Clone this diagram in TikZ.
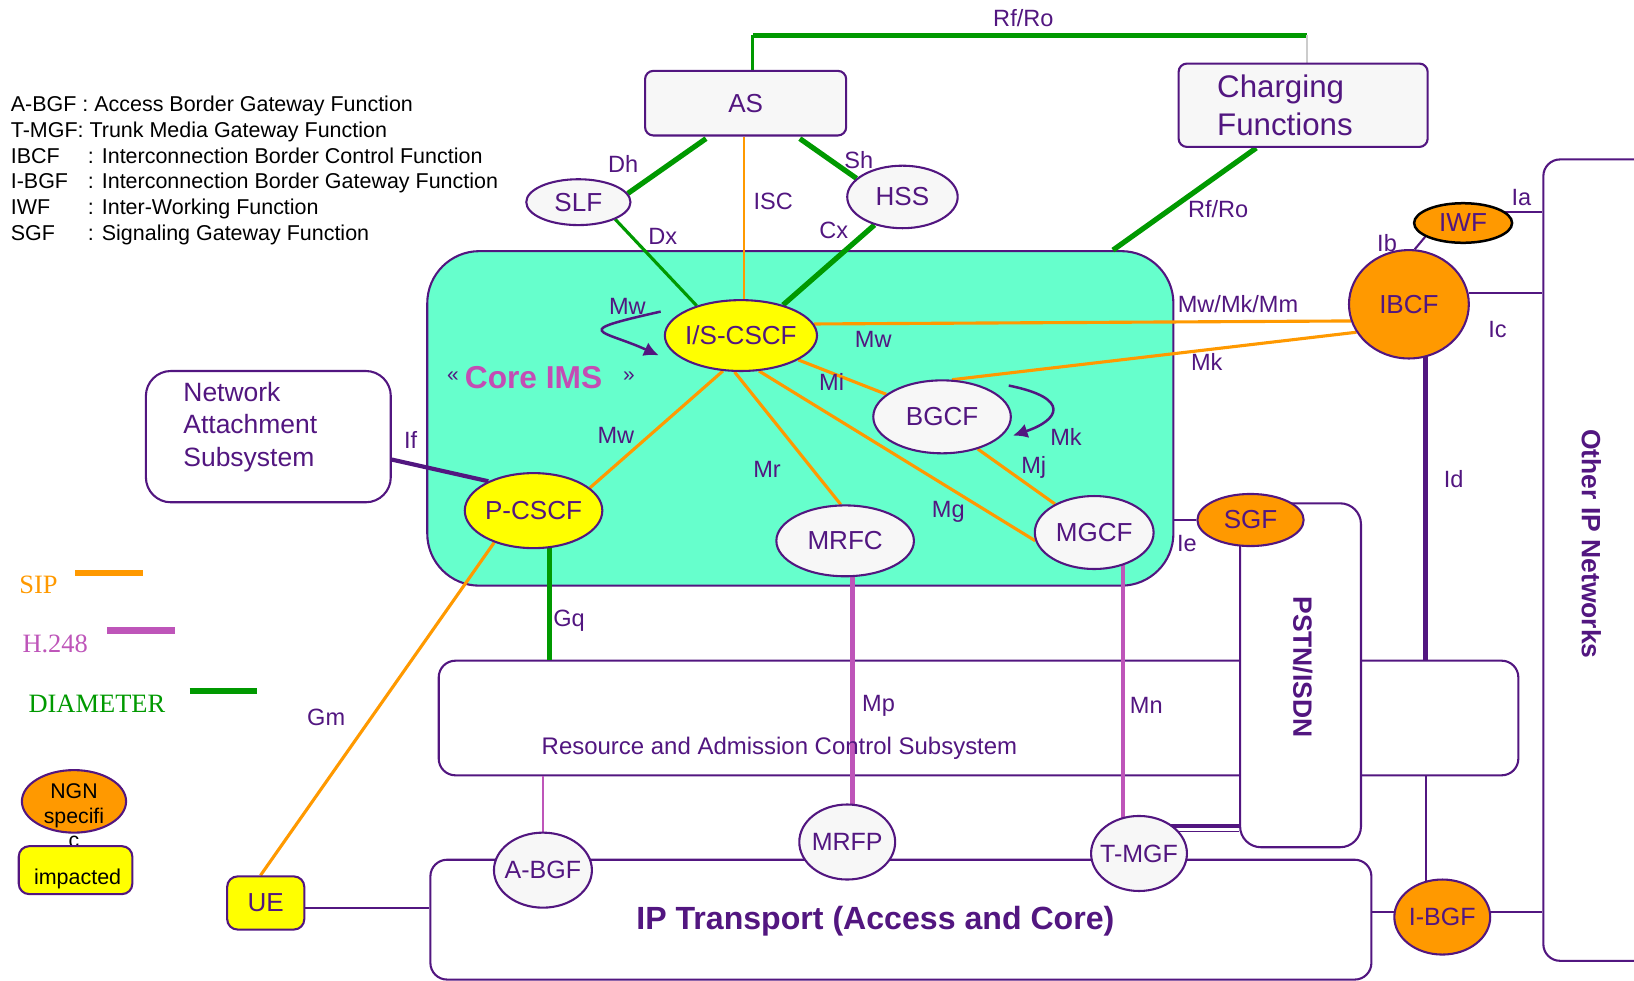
\documentclass[tikz,border=0pt]{standalone}
\usepackage{fontspec}
\setmainfont{Liberation Sans}
\newfontfamily\legserif{Liberation Serif}
\usetikzlibrary{shapes.geometric,arrows.meta,calc}
\definecolor{pur}{RGB}{82,22,128}
\definecolor{orng}{RGB}{255,153,0}
\definecolor{grn}{RGB}{0,153,0}
\definecolor{hmag}{RGB}{190,85,185}
\definecolor{imsmag}{RGB}{196,76,180}
\definecolor{imsfill}{RGB}{102,255,204}
\definecolor{lightg}{RGB}{247,247,247}
\definecolor{yel}{RGB}{255,255,0}
\newcommand{\ctx}[1]{\makebox[0pt]{#1}}
\pgfdeclarelayer{back}
\pgfdeclarelayer{lines}
\pgfsetlayers{back,lines,main}
\begin{document}
\begin{tikzpicture}[x=0.5pt,y=-0.5pt,
  lbl/.style={text=pur, font=\fontsize{11.3}{13}\selectfont, inner sep=0pt},
  legt/.style={anchor=base west, inner sep=0pt, font=\fontsize{10.3}{12}\selectfont, text=black},
  nodetext/.style={text=pur, font=\fontsize{12.5}{15}\selectfont},
  ell/.style={ellipse, draw=pur, line width=1pt, inner sep=0pt, nodetext},
  rbox/.style={rectangle, rounded corners=4pt, draw=pur, line width=1pt, nodetext},
  bigbox/.style={rectangle, draw=pur, line width=1pt, fill=white, rounded corners=8pt, inner sep=0pt},
  sip/.style={draw=orng, line width=1.5pt},
  dia/.style={draw=grn, line width=2.5pt},
  hreg/.style={draw=hmag, line width=2pt},
  plink/.style={draw=pur, line width=1pt},
  loopar/.style={draw=pur, line width=1.2pt, -{Latex[length=7pt,width=7pt]}},
  legline/.style={line width=3pt}
]
\useasboundingbox (0,0) rectangle (1568,941);

% ---------- legend (abbreviations)
\node[legt] (lg1) at (10,107) {A-BGF : Access Border Gateway Function};
\node[legt] (lg2) at (10,132) {T-MGF: Trunk Media Gateway Function};
\node[legt] (lg3a) at (10,157) {IBCF};
\node[legt] (lg3b) at (84,157) {: Interconnection Border Control Function};
\node[legt] (lg4a) at (10,181) {I-BGF};
\node[legt] (lg4b) at (84,181) {: Interconnection Border Gateway Function};
\node[legt] (lg5a) at (10,206) {IWF};
\node[legt] (lg5b) at (84,206) {: Inter-Working Function};
\node[legt] (lg6a) at (10,231) {SGF};
\node[legt] (lg6b) at (84,231) {: Signaling Gateway Function};

% ---------- background boxes
\begin{pgfonlayer}{back}
\node[rectangle, draw=pur, line width=1pt, fill=imsfill, rounded corners=25pt,
      minimum width=358pt, minimum height=160.5pt, inner sep=0pt] (core) at (768,401.5) {};
\node[bigbox, minimum width=518pt, minimum height=55pt] (racs) at (939,689) {};
\node[bigbox, rounded corners=10pt, minimum width=58pt, minimum height=165pt] (pstn) at (1248,648) {};
\node[bigbox, minimum width=451.5pt, minimum height=57.5pt] (ipt) at (864.5,882.5) {};
\node[bigbox, minimum width=64.5pt, minimum height=384.5pt] (oip) at (1545.5,537.5) {};
\end{pgfonlayer}

% ---------- box texts
\node[text=pur, font=\fontsize{11.5}{13}\selectfont] (racst) at (748,718) {Resource and Admission Control Subsystem};
\node[text=pur, font={\bfseries\fontsize{15.4}{18}\selectfont}] (iptt) at (840,884) {IP Transport (Access and Core)};
\node[rotate=-90, text=pur, font={\bfseries\fontsize{12.7}{15}\selectfont}] (oipt) at (1527,522) {Other IP Networks};
\node[rotate=-90, text=pur, font={\bfseries\fontsize{12.7}{15}\selectfont}] (pstnt) at (1250,640) {PSTN/ISDN};
\node[text=pur] (coret) at (519,362) {\raisebox{3pt}{\fontsize{10}{12}\selectfont «}\hspace{3pt}\textcolor{imsmag}{\bfseries\fontsize{15.2}{18}\selectfont Core IMS}\hspace{10pt}\raisebox{3pt}{\fontsize{10}{12}\selectfont »}};

% ---------- nodes
\node[rbox, fill=lightg, minimum width=96.5pt, minimum height=31pt] (as) at (715.5,99) {AS};
\node[rbox, fill=lightg, minimum width=119.5pt, minimum height=40pt, text width=82.5pt,
      inner xsep=18.5pt, align=left, font=\fontsize{15}{18.5}\selectfont] (charg) at (1250.5,101) {Charging\\Functions};
\node[ell, fill=lightg, minimum width=50pt, minimum height=22pt] (slf) at (555,194) {\ctx{SLF}};
\node[ell, fill=lightg, minimum width=53pt, minimum height=30pt] (hss) at (866,189) {\ctx{HSS}};
\node[ell, fill=yel, minimum width=73pt, minimum height=34pt] (iscscf) at (711,322) {\ctx{I/S-CSCF}};
\node[ell, fill=lightg, minimum width=66pt, minimum height=35pt] (bgcf) at (904,400) {\ctx{BGCF}};
\node[ell, fill=lightg, minimum width=66pt, minimum height=34pt] (mrfc) at (811,519) {\ctx{MRFC}};
\node[ell, fill=lightg, minimum width=57pt, minimum height=35pt] (mgcf) at (1050,511) {\ctx{MGCF}};
\node[ell, fill=yel, minimum width=66pt, minimum height=36pt] (pcscf) at (512,490) {\ctx{P-CSCF}};
\node[rectangle, draw=pur, line width=1pt, fill=white, rounded corners=12pt, minimum width=117.5pt,
      minimum height=63pt, text width=81.5pt, inner xsep=18pt, inner ysep=0pt, align=left,
      font=\fontsize{12.7}{15.5}\selectfont, text=pur] (nas) at (257.5,419) {Network\\Attachment\\Subsystem\\[-3.5pt]\mbox{}};
\node[ell, fill=orng, minimum width=57.5pt, minimum height=52pt] (ibcf) at (1352,292) {\ctx{IBCF}};
\node[ell, fill=orng, draw=black, line width=1.2pt, minimum width=47pt, minimum height=19pt] (iwf) at (1404,214) {\ctx{IWF}};
\node[ell, fill=orng, minimum width=51pt, minimum height=25pt] (sgf) at (1200,499) {\ctx{SGF}};
\node[rbox, fill=yel, rounded corners=5pt, minimum width=37pt, minimum height=25.5pt] (ue) at (255,866.5) {UE};
\node[ell, fill=lightg, minimum width=47pt, minimum height=36pt, font=\fontsize{12}{14}\selectfont] (abgf) at (521,835) {\ctx{A-BGF}};
\node[ell, fill=lightg, minimum width=46pt, minimum height=36pt, font=\fontsize{12}{14}\selectfont] (mrfp) at (813,808) {\ctx{MRFP}};
\node[ell, fill=lightg, minimum width=46pt, minimum height=36pt, font=\fontsize{12}{14}\selectfont] (tmgf) at (1093,819) {\ctx{T-MGF}};
\node[ell, fill=orng, minimum width=46pt, minimum height=36pt, font=\fontsize{12}{14}\selectfont] (ibgf) at (1384,880) {\ctx{I-BGF}};

% ---------- legend (protocols and colours)
\draw[orng, legline] (72,550) -- (137,550);
\draw[hmag, legline] (103,605) -- (168,605);
\draw[grn, legline] (182,663) -- (247,663);
\node[text=orng, font=\legserif\fontsize{12.7}{15}\selectfont] (lsip) at (37,561) {SIP};
\node[text=hmag, font=\legserif\fontsize{12.7}{15}\selectfont] (lh248) at (53,618) {H.248};
\node[text=grn, font=\legserif\fontsize{12.7}{15}\selectfont] (ldia) at (93,675) {DIAMETER};
\node[ell, fill=orng, minimum width=50pt, minimum height=30pt,
      label={[text=black, align=center, font=\fontsize{10.2}{11.8}\selectfont, yshift=-7pt]center:NGN\\specifi\\c}] (ngn) at (71,769) {};
\node[rbox, fill=yel, rounded corners=5pt, minimum width=54.5pt, minimum height=23pt,
      label={[text=black, font=\fontsize{10.3}{12}\selectfont, yshift=-4pt, xshift=1pt]center:impacted}] (imp) at (72.5,835) {};

% ---------- connectors
\begin{pgfonlayer}{lines}
\coordinate (rfa) at ($(as.north)+(7,-33)$);
\coordinate (rfb) at ($(charg.north)+(4,-26)$);
\draw[dia, line width=1.5pt] ($(as.north)+(7,0)$) -- (rfa);
\draw[dia] (rfa) -- (rfb);
\draw[gray!40, line width=0.8pt] (rfb) -- ($(charg.north)+(4,0)$);
\draw[dia] ($(as.south)+(-38,2)$) -- (slf.10);
\draw[dia] ($(as.south)+(52,2)$) -- (hss.158);
\draw[sip, line width=1.2pt] ($(as.south)+(-1.5,0)$) -- ($(iscscf.north)+(3,0)$);
\draw[dia, line width=1.5pt] (slf.-25) -- (iscscf.146);
\draw[dia] (hss.225) -- (iscscf.36);
\draw[dia] ($(charg.south)+(-45,0)$) -- ($(core.north)+(300,0)$);
\draw[sip] (iscscf.9) -- (ibcf.196);
\draw[sip] (bgcf.75) -- (ibcf.208);
\draw[sip] (iscscf.-23) -- (bgcf.158);
\draw[sip] (bgcf.-42) -- (mgcf.144);
\draw[sip] (iscscf.-63) -- (mgcf.188);
\draw[sip] (iscscf.-100) -- (mrfc.97);
\draw[sip] (iscscf.-117) -- (pcscf.22);
\draw[sip] (pcscf.-141) -- ($(ue.north)+(-5,0)$);
\draw[dia, line width=2pt] (pcscf.-67) -- (pcscf.-67 |- racs.north);
\draw[pur, line width=2pt] ($(nas.east)+(0,22)$) -- (pcscf.147);
\draw[plink] (sgf.west) -- (sgf.west -| core.east);
\draw[plink] (ibcf.84) -- (iwf.200);
\draw[plink] (iwf.15) -- (iwf.15 -| oip.west);
\draw[plink] (ibcf.11) -- (ibcf.11 -| oip.west);
\draw[pur, line width=2.5pt] ($(ibcf.center)+(16,0)$) -- ($(ibcf.center |- racs.north)+(16,0)$);
\draw[plink] ($(ibcf.center |- racs.south)+(16,0)$) -- ($(ibgf.center)+(-16,0)$);
\draw[hreg] ($(mrfc.center)+(7,0)$) -- ($(mrfp.center)+(5,0)$);
\draw[hreg] ($(mgcf.center)+(28,0)$) -- ($(tmgf.center)+(-15,0)$);
\draw[hmag, line width=1.2pt] (abgf.center) -- (abgf.center |- racs.south);
\coordinate (tm1) at ($(tmgf.center)+(22,-26)$);
\coordinate (tm2) at ($(tmgf.center)+(30,-21)$);
\draw[pur, line width=2pt] (tm1) -- (tm1 -| pstn.west);
\draw[plink, line width=0.8pt] (tm2) -- (tm2 -| pstn.west);
\coordinate (ue1) at ($(ue.east)+(0,5)$);
\draw[plink] (ue1) -- (ue1 -| ipt.west);
\coordinate (ib1) at ($(ibgf.center)+(0,-5)$);
\draw[plink] (ib1 -| ipt.east) -- (ib1 -| oip.west);
\end{pgfonlayer}

% ---------- self loops (on top of the core box)
\draw[loopar] ($(iscscf.center)+(-77,-23)$) .. controls +(-89,20) and +(-55,-25) .. ($(iscscf.center)+(-79,19)$);
\draw[loopar] ($(bgcf.center)+(64,-30)$) .. controls +(60,12) and +(45,-15) .. ($(bgcf.center)+(68,18)$);

% ---------- interface labels
\node[lbl] (t1) at (982,17) {Rf/Ro};
\node[lbl] (t2) at (598,157) {Dh};
\node[lbl] (t3) at (824,154) {Sh};
\node[lbl] (t4) at (742,193) {ISC};
\node[lbl] (t5) at (636,227) {Dx};
\node[lbl] (t6) at (800,221) {Cx};
\node[lbl] (t7) at (1169,201) {Rf/Ro};
\node[lbl] (t8) at (602,294) {Mw};
\node[lbl] (t9) at (838,326) {Mw};
\node[lbl] (t10) at (1188,292) {Mw/Mk/Mm};
\node[lbl] (t11) at (1158,347) {Mk};
\node[lbl] (t12) at (798,367) {Mi};
\node[lbl] (t13) at (1023,419) {Mk};
\node[lbl] (t14) at (992,449) {Mj};
\node[lbl] (t15) at (591,418) {Mw};
\node[lbl] (t16) at (736,450) {Mr};
\node[lbl] (t17) at (910,491) {Mg};
\node[lbl] (t18) at (394,422) {If};
\node[lbl] (t19) at (1331,233) {Ib};
\node[lbl] (t20) at (1460,190) {Ia};
\node[lbl] (t21) at (1437,316) {Ic};
\node[lbl] (t22) at (1395,460) {Id};
\node[lbl] (t23) at (1139,522) {Ie};
\node[lbl] (t24) at (546,596) {Gq};
\node[lbl] (t25) at (313,688) {Gm};
\node[lbl] (t26) at (843,677) {Mp};
\node[lbl] (t27) at (1100,677) {Mn};
\end{tikzpicture}
\end{document}
